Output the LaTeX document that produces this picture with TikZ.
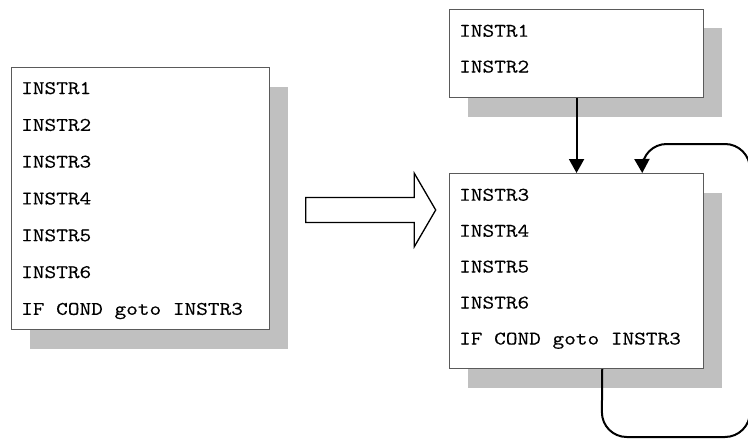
\documentclass[tikz,border=0pt]{standalone}
\usepackage{fontspec}
\setmonofont[FakeStretch=1.18, FakeBold=0.4]{Latin Modern Mono}
\usetikzlibrary{arrows.meta,shadows}
\definecolor{shadowgray}{HTML}{C0C0C0}
\definecolor{framegray}{HTML}{5A5A5A}
\tikzset{
  codebox/.style={draw=framegray, line width=1.1pt, fill=white, inner sep=0pt,
    anchor=north west,
    drop shadow={shadow xshift=18pt, shadow yshift=-19pt, fill=shadowgray, opacity=1}},
  instr/.style={anchor=base west, inner sep=0pt,
    font=\ttfamily\fontsize{19.2pt}{22pt}\selectfont},
  flow/.style={draw=black, line width=2pt, -{Triangle[length=14pt,width=15pt]}},
  bigarrow/.style={draw=black, line width=1.3pt, fill=white, line join=miter},
}
\begin{document}
\begin{tikzpicture}[x=1pt, y=-1pt]
  \useasboundingbox (0,0) rectangle (748,439);

  % original sequence
  \node[codebox, minimum width=258pt, minimum height=262pt] (src) at (11,67) {};
  \node[instr] (s1) at (21,94)    {INSTR1};
  \node[instr] (s2) at (21,130.8) {INSTR2};
  \node[instr] (s3) at (21,167.6) {INSTR3};
  \node[instr] (s4) at (21,204.4) {INSTR4};
  \node[instr] (s5) at (21,241.2) {INSTR5};
  \node[instr] (s6) at (21,278)   {INSTR6};
  \node[instr] (s7) at (21,314.8) {IF COND goto INSTR3};

  % transformation arrow
  \draw[bigarrow] (305.7,197.5) -- (414.3,197.5) -- (414.3,173.3) -- (435.7,210)
    -- (414.3,246.7) -- (414.3,222.5) -- (305.7,222.5) -- cycle;

  % entry block
  \node[codebox, minimum width=254pt, minimum height=88pt,
        drop shadow={shadow xshift=18pt, shadow yshift=-18pt, fill=shadowgray, opacity=1}]
        (head) at (449,9) {};
  \node[instr] (h1) at (459,36.7) {INSTR1};
  \node[instr] (h2) at (459,72.5) {INSTR2};

  % loop body
  \node[codebox, minimum width=254pt, minimum height=195pt] (body) at (449,173) {};
  \node[instr] (b1) at (459,200.7) {INSTR3};
  \node[instr] (b2) at (459,236.7) {INSTR4};
  \node[instr] (b3) at (459,272.5) {INSTR5};
  \node[instr] (b4) at (459,308.5) {INSTR6};
  \node[instr] (b5) at (459,344.5) {IF COND goto INSTR3};

  % connectors
  \draw[flow] (head) -- (body);

  \coordinate (lowL) at (601.7,437);
  \coordinate (lowR) at (750,437);
  \coordinate (upR)  at (750,144);
  \coordinate (upL)  at (641.7,144);
  \draw[flow] ([xshift=25.7pt]body.south) [rounded corners=25pt] -- (lowL) -- (lowR)
    -- (upR) -- (upL) [rounded corners=14pt] -- ([xshift=65.7pt]body.north);
\end{tikzpicture}
\end{document}
